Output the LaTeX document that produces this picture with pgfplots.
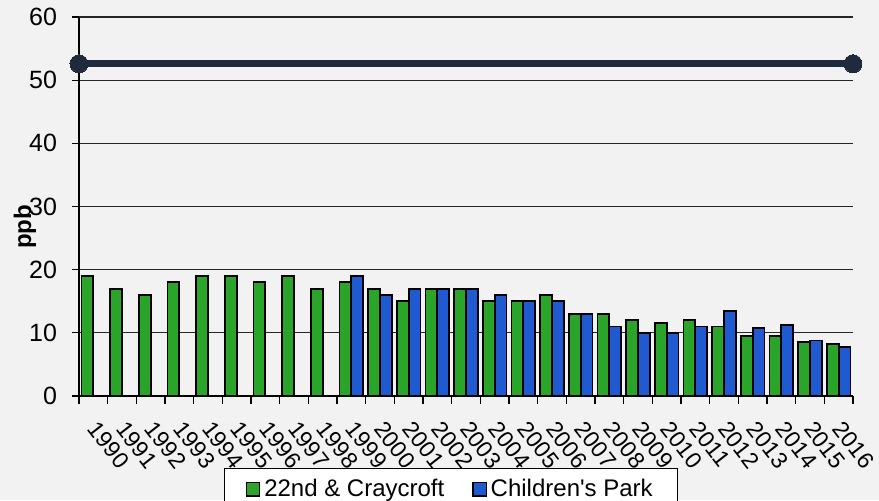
\documentclass[border=0pt]{standalone}
\usepackage{fontspec}
\setmainfont{Liberation Sans}
\usepackage{pgfplots}
\pgfplotsset{compat=1.18}
\definecolor{bggray}{HTML}{F2F2F2}
\definecolor{craygreen}{HTML}{2AA52A}
\definecolor{parkblue}{HTML}{1F5AD0}
\definecolor{stdnavy}{HTML}{1F2A3C}

\begin{document}
\begin{tikzpicture}
\useasboundingbox (-39.5pt,-52pt) rectangle (400pt,198pt);
\clip (-39.5pt,-52pt) rectangle (400pt,198pt);
\fill[bggray] (-39.5pt,-52pt) rectangle (400pt,198pt);
\begin{axis}[
  at={(0,0)}, anchor=south west,
  scale only axis, width=387pt, height=189.5pt,
  ybar, clip=false,
  xmin=-0.5, xmax=26.5, ymin=0, ymax=60,
  axis lines*=left, axis line style={-, black, line width=0.6pt},
  xtick={0,...,26},
  xticklabels={1990,1991,1992,1993,1994,1995,1996,1997,1998,1999,2000,2001,2002,2003,2004,2005,2006,2007,2008,2009,2010,2011,2012,2013,2014,2015,2016},
  major x tick style={draw=none},
  minor xtick={-0.5,0.5,...,26.5},
  minor x tick style={black, line width=0.6pt},
  minor tick length=4pt,
  ytick={0,10,...,60},
  tick align=outside, major tick length=3.5pt,
  y tick style={black, line width=0.6pt},
  ymajorgrids, grid style={black!85, line width=0.6pt},
  /pgf/number format/assume math mode=true,
  tick label style={font=\fontsize{12.5}{14}\selectfont},
  yticklabel style={xshift=-4pt},
  xticklabel style={font=\fontsize{11.5}{13}\selectfont, xshift=3.5pt, yshift=-3.5pt, rotate=-52, anchor=north west},
  ylabel={\textbf{ppb}},
  ylabel style={at={(axis description cs:-0.07,0.446)}, anchor=center, font=\fontsize{12}{14}\selectfont},
  legend columns=2,
  legend style={at={(axis description cs:0.481,-0.189)}, anchor=north,
    fill=white, draw=black, line width=0.5pt,
    font=\fontsize{12}{14}\selectfont, inner xsep=10.5pt, inner ysep=3.5pt,
    /tikz/every even column/.append style={column sep=12pt}},
  legend image code/.code={\draw[#1, draw=black, line width=0.6pt] (0pt,-3.3pt) rectangle (6.6pt,3.3pt);},
]
\addplot[fill=craygreen, draw=black, line width=0.9pt, bar width=0.41, bar shift=-0.205] coordinates {
  (0,19) (1,17) (2,16) (3,18) (4,19) (5,19) (6,18) (7,19) (8,17)
  (9,18) (10,17) (11,15) (12,17) (13,17) (14,15) (15,15) (16,16) (17,13)
  (18,13) (19,12) (20,11.6) (21,12) (22,11) (23,9.5) (24,9.5) (25,8.5) (26,8.2)};
\addlegendentry{22nd \& Craycroft}
\addplot[fill=parkblue, draw=black, line width=0.9pt, bar width=0.41, bar shift=0.205] coordinates {
  (9,19) (10,16) (11,17) (12,17) (13,17) (14,16) (15,15) (16,15) (17,13)
  (18,11) (19,10) (20,10) (21,11) (22,13.5) (23,10.8) (24,11.2) (25,8.8) (26,7.7)};
\addlegendentry{Children\textquotesingle s Park}
\addplot[sharp plot, forget plot, stdnavy, line width=3.5pt, mark=*, mark size=4.5pt,
  mark options={fill=stdnavy, draw=stdnavy, line width=0pt}] coordinates {(-0.5,52.6) (26.5,52.6)};
\end{axis}
\end{tikzpicture}
\end{document}
